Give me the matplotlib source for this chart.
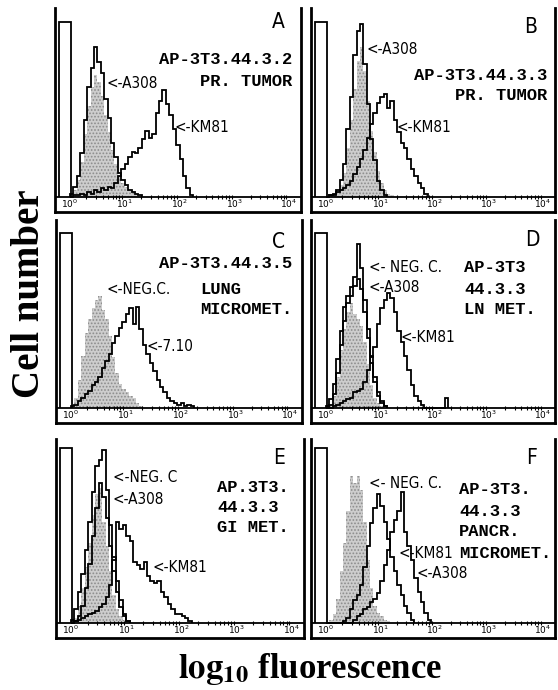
import numpy as np
import matplotlib.pyplot as plt
from matplotlib import font_manager

# histogram channels grouped in bins of 1/16 decade, every series starts at 10^0
BIN = 0.0625
SPIKE = 100                      # off-scale events piled into the first channel
DECADES = [1, 10, 100, 1000, 10000]
DECADE_LABELS = [r'$10^{0}$', r'$10^{1}$', r'$10^{2}$', r'$10^{3}$', r'$10^{4}$']

# A  AP-3T3.44.3.2, primary tumour
A_GREY = [1, 4, 10, 20, 36, 52, 63, 70, 66, 58, 47, 37, 27, 19, 12, 8, 6, 4, 3, 2, 1]
A_A308 = [2, 6, 12, 25, 44, 63, 74, 86, 77, 71, 56, 45, 31, 23, 14, 10, 7, 4, 3, 2, 1]
A_KM81 = [0, 1, 1, 2, 1, 3, 2, 4, 3, 5, 4, 6, 5, 8, 12, 16, 19, 23, 26, 25, 28, 33, 38, 34,
          36, 48, 55, 61, 53, 47, 39, 30, 22, 12, 5, 1]

# B  AP-3T3.44.3.3, primary tumour
B_GREY = [0, 1, 2, 3, 7, 14, 28, 44, 62, 78, 86, 72, 55, 38, 26, 15, 8, 4, 2, 1]
B_A308 = [0, 1, 2, 4, 10, 19, 39, 57, 81, 95, 99, 76, 53, 33, 21, 9, 4, 1]
B_KM81 = [0, 1, 1, 3, 4, 5, 7, 9, 13, 17, 22, 27, 34, 42, 48, 54, 57, 59, 51, 55, 44, 37,
          31, 28, 22, 16, 12, 8, 5, 2]

# C  AP-3T3.44.3.5, lung micrometastasis
C_GREY = [1, 6, 16, 30, 43, 51, 57, 62, 64, 56, 51, 41, 29, 20, 14, 11, 9, 7, 6, 3, 1]
C_710 = [1, 2, 4, 6, 8, 10, 13, 15, 18, 23, 27, 31, 37, 41, 46, 49, 54, 57, 48, 58, 45, 36,
         31, 26, 21, 16, 12, 9, 6, 4, 3, 2, 3, 1, 2, 1]

# D  AP-3T3 44.3.3, lymph node metastasis
D_GREY = [0, 2, 7, 18, 33, 45, 55, 60, 54, 51, 47, 38, 25, 13, 6, 3, 1]
D_NEG = [1, 5, 14, 28, 44, 58, 64, 69, 75, 94, 80, 62, 45, 30, 18, 9, 4, 1]
D_A308 = [0, 2, 8, 20, 36, 50, 60, 64, 70, 74, 68, 55, 40, 26, 15, 7, 3, 1]
D_KM81 = [0, 0, 1, 2, 3, 4, 5, 6, 9, 10, 11, 15, 22, 29, 35, 48, 57, 62, 66, 63, 55, 44,
          38, 30, 22, 13, 7, 4, 2, 0, 0, 0, 0, 0, 0, 6]

# E  AP.3T3. 44.3.3, GI metastasis
E_GREY = [1, 3, 10, 20, 32, 46, 62, 74, 77, 58, 44, 30, 16, 8, 4, 2, 1]
E_NEG = [2, 8, 18, 28, 42, 58, 75, 90, 93, 99, 76, 56, 38, 24, 13, 5, 1]
E_A308 = [0, 1, 4, 10, 20, 34, 50, 66, 80, 72, 60, 44, 30, 18, 9, 4, 1]
E_KM81 = [0, 1, 2, 3, 4, 5, 6, 7, 9, 11, 15, 22, 36, 58, 54, 56, 50, 47, 35, 33, 31, 35,
          27, 24, 23, 24, 18, 15, 11, 8, 5, 5, 4, 3, 1]

# F  AP-3T3. 44.3.3, pancreas micrometastasis
F_GREY = [0, 2, 5, 14, 30, 46, 64, 84, 80, 84, 76, 58, 36, 20, 10, 6, 4, 2, 1]
F_KM81 = [0, 0, 0, 0, 0, 1, 3, 8, 13, 16, 22, 32, 44, 57, 66, 74, 67, 58, 48, 38, 30, 22,
          16, 10, 6, 2]
F_A308 = [0, 0, 0, 0, 0, 0, 0, 0, 2, 4, 5, 8, 9, 12, 14, 17, 24, 33, 42, 52, 59, 64, 75,
          52, 44, 36, 26, 18, 12, 6, 2]

W, H = 558, 690
PX_PER_COUNT = 1.75

plt.rcParams['hatch.color'] = '#8c8c8c'
plt.rcParams['hatch.linewidth'] = 0.8

# a condensed sans for the "<-" labels if one is installed
_fonts = font_manager.fontManager.ttflist
if any(f.name == 'DejaVu Sans' and f.stretch == 'condensed' for f in _fonts):
    NARROW, STRETCH, NSIZE, LSIZE = 'DejaVu Sans', 'condensed', 11, 15
elif any(f.name == 'Liberation Sans Narrow' for f in _fonts):
    NARROW, STRETCH, NSIZE, LSIZE = 'Liberation Sans Narrow', 'normal', 13, 15
else:
    NARROW, STRETCH, NSIZE, LSIZE = 'DejaVu Sans', 'normal', 9.5, 13

fig = plt.figure(figsize=(W / 100, H / 100), dpi=100)


def edges(counts):
    return 10 ** (np.arange(len(counts) + 1) * BIN)


def note(x, y, s, kind, ha='left'):
    if kind == 'mono':
        fig.text(x / W, 1 - y / H, s, ha=ha, va='center', family='Liberation Mono',
                 weight='bold', fontsize=12.3)
    elif kind == 'arrow':
        fig.text(x / W, 1 - y / H, s, ha=ha, va='center', family=NARROW,
                 fontstretch=STRETCH, fontsize=NSIZE)
    else:
        fig.text(x / W, 1 - y / H, s, ha='center', va='center', family=NARROW,
                 fontstretch=STRETCH, fontsize=LSIZE)


def panel(rect, grey, lines):
    x0, y0, x1, y1 = rect
    ax = fig.add_axes([x0 / W, 1 - y1 / H, (x1 - x0) / W, (y1 - y0) / H])
    ppd = (x1 - x0 - 27) / 4
    ax.set_xscale('log')
    ax.set_xlim(10 ** (-15 / ppd), 10 ** (4 + 12 / ppd))
    ax.set_ylim(-15 / PX_PER_COUNT, (y1 - y0 - 15) / PX_PER_COUNT)

    ax.stairs(grey, edges(grey), fill=True, facecolor='#cdcdcd', lw=0, hatch='.....')
    ax.stairs([SPIKE], [10 ** -0.2, 10 ** 0.02], color='k', lw=1.3)
    for counts in lines:
        ax.stairs(counts, edges(counts), color='k', lw=1.3)

    ax.axhline(0, color='k', lw=1.3)
    minor = [m * 10 ** d for d in range(4) for m in range(2, 10)]
    ax.plot(minor, np.zeros(len(minor)), '|', color='k', ms=3, mew=0.8)

    ax.set_xticks(DECADES, DECADE_LABELS)
    ax.minorticks_off()
    ax.tick_params(axis='x', length=0, pad=-10.5, labelsize=6.5)
    ax.set_yticks([])
    for side in ['left', 'right', 'bottom']:
        ax.spines[side].set_linewidth(2)
    ax.spines['top'].set_visible(False)
    return ax


panel((55, 8, 301, 212), A_GREY, [A_A308, A_KM81])
note(278, 22, 'A', 'letter')
note(292, 60, 'AP-3T3.44.3.2', 'mono', 'right')
note(292, 81, 'PR. TUMOR', 'mono', 'right')
note(106, 83, '<-A308', 'arrow')
note(175, 128, '<-KM81', 'arrow')

panel((311, 8, 555, 212), B_GREY, [B_A308, B_KM81])
note(531, 27, 'B', 'letter')
note(547, 75, 'AP-3T3.44.3.3', 'mono', 'right')
note(547, 95, 'PR. TUMOR', 'mono', 'right')
note(367, 50, '<-A308', 'arrow')
note(396, 127, '<-KM81', 'arrow')

panel((56, 220, 302, 423), C_GREY, [C_710])
note(279, 242, 'C', 'letter')
note(292, 263, 'AP-3T3.44.3.5', 'mono', 'right')
note(200, 290, 'LUNG', 'mono')
note(200, 310, 'MICROMET.', 'mono')
note(106, 290, '<-NEG.C.', 'arrow')
note(147, 347, '<-7.10', 'arrow')

panel((311, 220, 555, 423), D_GREY, [D_NEG, D_A308, D_KM81])
note(532, 240, 'D', 'letter')
note(464, 268, 'AP-3T3', 'mono')
note(464, 290, '44.3.3', 'mono')
note(464, 310, 'LN MET.', 'mono')
note(369, 267, '<- NEG. C.', 'arrow')
note(369, 288, '<-A308', 'arrow')
note(401, 337, '<-KM81', 'arrow')

panel((56, 439, 304, 638), E_GREY, [E_NEG, E_A308, E_KM81])
note(279, 458, 'E', 'letter')
note(217, 487, 'AP.3T3.', 'mono')
note(217, 507, '44.3.3', 'mono')
note(217, 528, 'GI MET.', 'mono')
note(113, 477, '<-NEG. C', 'arrow')
note(113, 500, '<-A308', 'arrow')
note(153, 567, '<-KM81', 'arrow')

panel((311, 439, 555, 638), F_GREY, [F_KM81, F_A308])
note(532, 458, 'F', 'letter')
note(459, 490, 'AP-3T3.', 'mono')
note(459, 512, '44.3.3', 'mono')
note(459, 532, 'PANCR.', 'mono')
note(459, 553, 'MICROMET.', 'mono')
note(369, 483, '<- NEG. C.', 'arrow')
note(399, 553, '<-KM81', 'arrow')
note(417, 573, '<-A308', 'arrow')

plt.rcParams['mathtext.fontset'] = 'stix'
fig.text(30 / W, 1 - 294 / H, 'Cell number', rotation=90, ha='center', va='center',
         family='Liberation Serif', weight='bold', fontsize=28)
fig.text(310 / W, 1 - 678 / H, r'$\mathbf{log}_{\mathbf{10}}$ fluorescence', ha='center',
         va='baseline', family='Liberation Serif', weight='bold', fontsize=25)

fig.savefig('out.png', dpi=100)
